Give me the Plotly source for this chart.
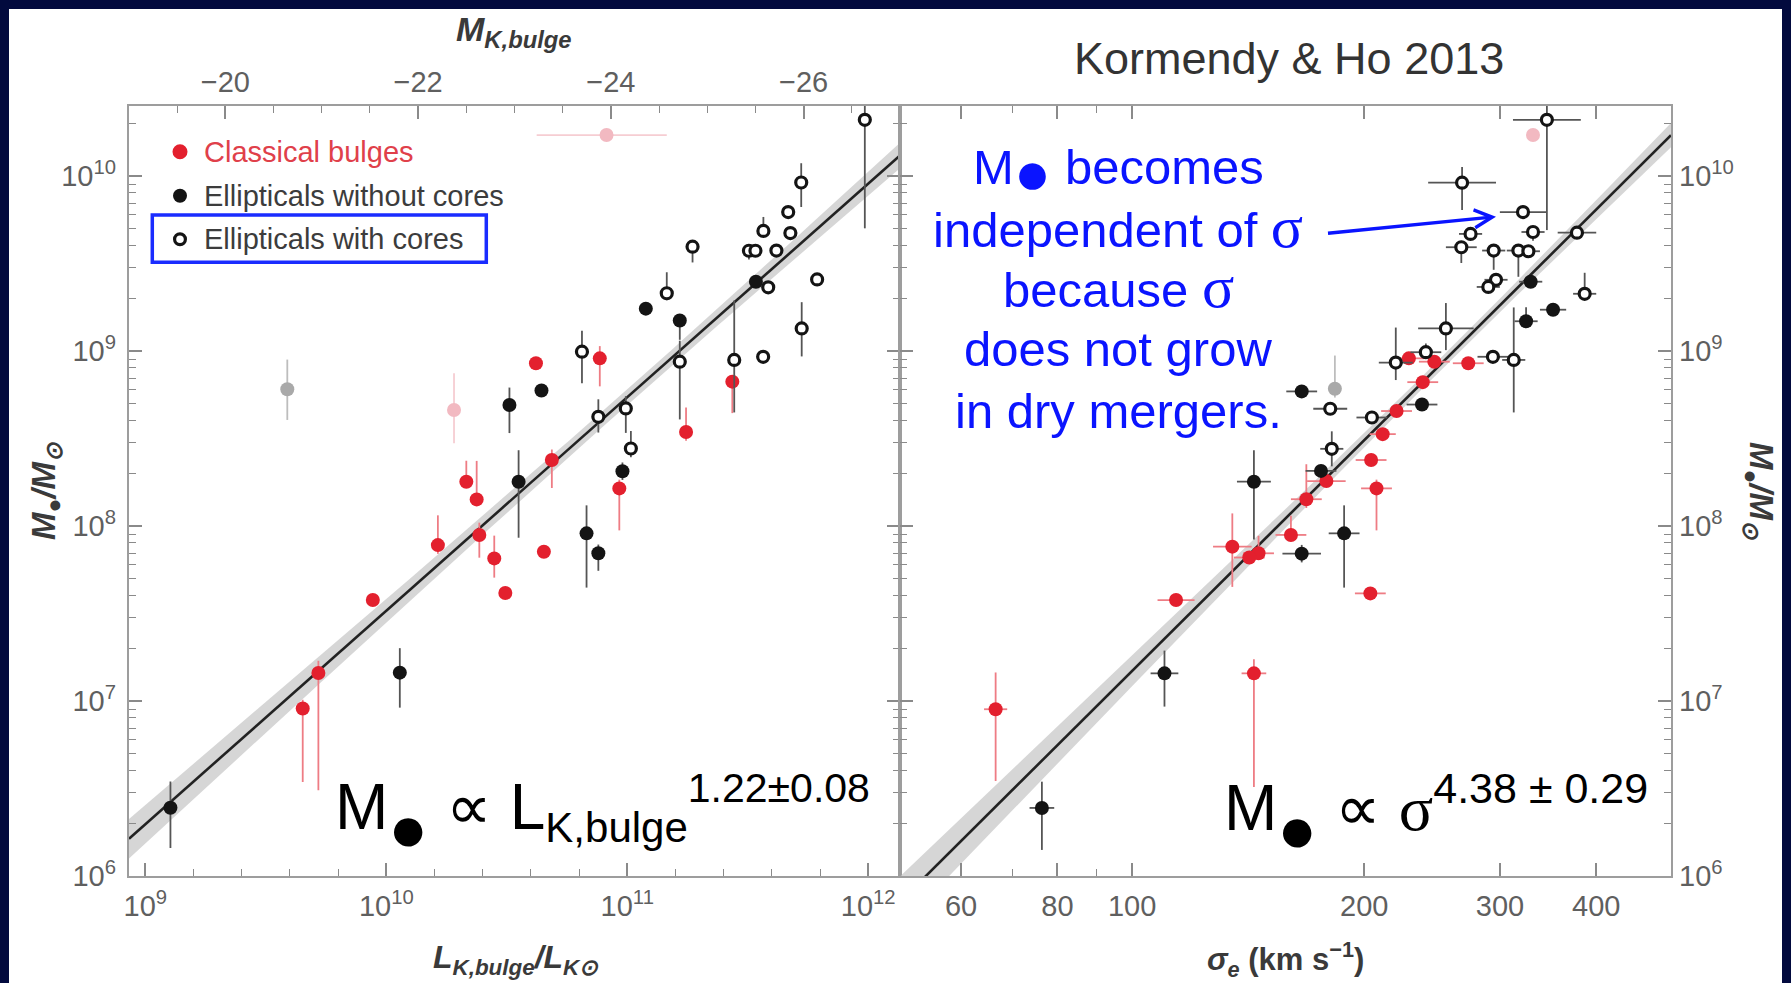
import numpy as np
import plotly.graph_objects as go

W, H = 1791, 983

# ---------------- LEFT PANEL: log10(L_K,bulge/L_Ksun) vs log10(M_BH/Msun) ----------------
# Classical bulges
cbL_logL = [10.621, 10.886, 11.436, 11.244, 10.687, 10.332, 10.375, 10.967, 10.386, 10.214, 10.448, 10.654, 10.494, 9.944, 9.718, 9.653]
cbL_logM = [8.930, 8.958, 8.825, 8.537, 8.377, 8.253, 8.152, 8.215, 7.949, 7.891, 7.815, 7.853, 7.617, 7.577, 7.160, 6.957]
cbL_up = [0.03, 0.07, 0.00, 0.14, 0.06, 0.12, 0.22, 0.05, 0.07, 0.17, 0.13, 0.02, 0.02, 0.02, 0.07, 0.05]
cbL_dn = [0.03, 0.16, 0.18, 0.05, 0.16, 0.03, 0.03, 0.24, 0.13, 0.05, 0.11, 0.02, 0.02, 0.02, 0.67, 0.42]
# Ellipticals without cores
eL_logL = [10.511, 10.644, 11.077, 11.218, 11.534, 10.980, 10.549, 10.831, 10.880, 10.056, 9.104]
eL_logM = [8.691, 8.774, 9.242, 9.174, 9.396, 8.313, 8.253, 7.958, 7.844, 7.162, 6.390]
eL_up = [0.10, 0.03, 0.03, 0.03, 0.03, 0.05, 0.18, 0.16, 0.05, 0.14, 0.15]
eL_dn = [0.16, 0.03, 0.03, 0.11, 0.03, 0.05, 0.32, 0.31, 0.10, 0.20, 0.23]
# Ellipticals with cores
cL_logL = [11.986, 11.722, 11.668, 11.677, 11.565, 11.505, 11.532, 11.619, 11.585, 11.788, 11.164, 11.271,
           10.812, 11.218, 11.444, 11.564, 11.724, 10.880, 10.994, 11.015]
cL_logM = [10.321, 9.963, 9.794, 9.674, 9.686, 9.573, 9.573, 9.574, 9.364, 9.409, 9.330, 9.596,
           8.996, 8.939, 8.949, 8.967, 9.129, 8.624, 8.672, 8.443]
cL_up = [0.10, 0.11, 0.03, 0.03, 0.08, 0.03, 0.03, 0.03, 0.03, 0.03, 0.12, 0.03, 0.12, 0.12, 0.34, 0.03, 0.15, 0.10, 0.07, 0.10]
cL_dn = [0.62, 0.14, 0.03, 0.03, 0.03, 0.05, 0.03, 0.03, 0.03, 0.03, 0.04, 0.09, 0.18, 0.33, 0.30, 0.03, 0.16, 0.09, 0.14, 0.05]
# Omitted objects (faded)
omL_logL = [10.281, 10.914]
omL_logM = [8.663, 10.234]
omL_up = [0.21, 0.0]
omL_dn = [0.19, 0.0]
omL_xlo = [0.0, 0.29]
omL_xhi = [0.0, 0.25]
grL_logL = [9.589]
grL_logM = [8.781]
grL_up = [0.17]
grL_dn = [0.175]

# ---------------- RIGHT PANEL: log10(sigma_e) vs log10(M_BH) ----------------
cbR_logS = [2.359, 2.392, 2.436, 2.377, 2.343, 2.325, 2.310, 2.317, 2.252, 2.226, 2.206, 2.130, 2.164, 2.152, 2.309, 2.057, 2.158, 1.823]
cbR_logM = [8.958, 8.939, 8.930, 8.822, 8.657, 8.525, 8.377, 8.215, 8.257, 8.153, 7.949, 7.882, 7.844, 7.820, 7.615, 7.577, 7.158, 6.953]
cbR_up = [0.03, 0.03, 0.03, 0.03, 0.03, 0.03, 0.03, 0.05, 0.03, 0.20, 0.11, 0.19, 0.10, 0.03, 0.03, 0.03, 0.08, 0.21]
cbR_dn = [0.03, 0.03, 0.03, 0.03, 0.03, 0.03, 0.03, 0.24, 0.03, 0.05, 0.03, 0.23, 0.03, 0.03, 0.03, 0.03, 0.65, 0.41]
cbR_sx = [0.02, 0.02, 0.02, 0.02, 0.02, 0.017, 0.02, 0.02, 0.025, 0.02, 0.02, 0.025, 0.02, 0.02, 0.02, 0.024, 0.016, 0.015]

eR_logS = [2.517, 2.546, 2.511, 2.220, 2.376, 2.245, 2.158, 2.220, 2.275, 2.042, 1.883]
eR_logM = [9.396, 9.236, 9.170, 8.769, 8.694, 8.315, 8.253, 7.842, 7.958, 7.158, 6.389]
eR_up = [0.03, 0.03, 0.08, 0.03, 0.03, 0.03, 0.18, 0.05, 0.16, 0.13, 0.15]
eR_dn = [0.03, 0.03, 0.03, 0.03, 0.03, 0.03, 0.33, 0.05, 0.31, 0.19, 0.24]
eR_sx = [0.015, 0.017, 0.015, 0.02, 0.02, 0.02, 0.022, 0.025, 0.02, 0.018, 0.016]

cR_logS = [2.538, 2.428, 2.507, 2.520, 2.577, 2.439, 2.427, 2.469, 2.501, 2.514, 2.472, 2.462, 2.587, 2.407,
           2.381, 2.342, 2.468, 2.495, 2.257, 2.311, 2.259]
cR_logM = [10.321, 9.962, 9.794, 9.680, 9.676, 9.669, 9.593, 9.574, 9.574, 9.570, 9.407, 9.366, 9.327, 9.129,
           8.993, 8.934, 8.967, 8.949, 8.670, 8.620, 8.441]
cR_up = [0.10, 0.09, 0.03, 0.03, 0.03, 0.03, 0.03, 0.03, 0.03, 0.03, 0.03, 0.03, 0.12, 0.145, 0.05, 0.20, 0.03, 0.30, 0.03, 0.03, 0.10]
cR_dn = [0.63, 0.156, 0.03, 0.05, 0.03, 0.03, 0.09, 0.11, 0.15, 0.03, 0.03, 0.03, 0.03, 0.124, 0.03, 0.10, 0.03, 0.30, 0.03, 0.03, 0.10]
cR_sx = [0.044, 0.044, 0.03, 0.015, 0.025, 0.015, 0.02, 0.015, 0.015, 0.015, 0.015, 0.015, 0.015, 0.036,
         0.02, 0.022, 0.02, 0.015, 0.022, 0.02, 0.015]

omR_logS = [2.520]
omR_logM = [10.234]
grR_logS = [2.263]
grR_logM = [8.784]
grR_up = [0.19]
grR_dn = [0.05]

# Fits (Kormendy & Ho 2013)
fitL = dict(norm=8.736, slope=1.22, pivot=11.0, a=0.045, b=0.05, bpiv=11.0)
fitS = dict(norm=8.49, slope=4.38, pivot=np.log10(200.0), a=0.035, b=0.20, bpiv=2.40)

# Axis ranges (log10)
L_range = [8.932, 12.132]
S_range = [np.log10(50.0), np.log10(500.0)]
M_range = [6.0, 10.4]
MK_range = [-19.0, -27.0]

# Tick labels
L_ticks = [1e9, 1e10, 1e11, 1e12]
L_ticktext = ["10<sup>9</sup>", "10<sup>10</sup>", "10<sup>11</sup>", "10<sup>12</sup>"]
M_ticks = [1e6, 1e7, 1e8, 1e9, 1e10]
M_ticktext = ["10<sup>6</sup>", "10<sup>7</sup>", "10<sup>8</sup>", "10<sup>9</sup>", "10<sup>10</sup>"]
S_ticks = [60, 80, 100, 200, 300, 400]
S_ticktext = ["60", "80", "100", "200", "300", "400"]
MK_ticks = [-20, -22, -24, -26]
MK_ticktext = ["\u221220", "\u221222", "\u221224", "\u221226"]

# ---------------- helpers ----------------
def p(v):
    return 10 ** np.asarray(v, dtype=float)

def errs(logv, up, dn):
    v = np.asarray(logv, dtype=float)
    return (p(v + np.asarray(up)) - p(v)).tolist(), (p(v) - p(v - np.asarray(dn))).tolist()

RED = "#e3202e"
BLK = "#141414"
TICKFONT = dict(family="Liberation Sans Narrow, Liberation Sans, Arial, sans-serif", size=29, color="#5f5f5f")

fig = go.Figure()

def band_traces(fit, rng, xa, ya):
    xs = np.linspace(rng[0], rng[1], 120)
    yc = fit["norm"] + fit["slope"] * (xs - fit["pivot"])
    hw = np.sqrt(fit["a"] ** 2 + (fit["b"] * (xs - fit["bpiv"])) ** 2)
    bx = np.concatenate([xs, xs[::-1]])
    by = np.concatenate([yc + hw, (yc - hw)[::-1]])
    fig.add_trace(go.Scatter(x=p(bx), y=p(by), fill="toself", fillcolor="rgba(200,200,200,0.75)",
                             line=dict(width=0), mode="lines", xaxis=xa, yaxis=ya,
                             hoverinfo="skip", showlegend=False))
    fig.add_trace(go.Scatter(x=p(xs), y=p(yc), mode="lines", line=dict(color="#222222", width=2.6),
                             xaxis=xa, yaxis=ya, hoverinfo="skip", showlegend=False))

def series(xlog, ylog, up, dn, xa, ya, marker, ecol, xlo=None, xhi=None):
    ep, em = errs(ylog, up, dn)
    tr = dict(x=p(xlog), y=p(ylog), mode="markers", xaxis=xa, yaxis=ya, marker=marker,
              error_y=dict(type="data", symmetric=False, array=ep, arrayminus=em,
                           color=ecol, thickness=1.8, width=0),
              showlegend=False, hoverinfo="skip")
    if xlo is not None:
        xp_, xm_ = errs(xlog, xhi, xlo)
        tr["error_x"] = dict(type="data", symmetric=False, array=xp_, arrayminus=xm_,
                             color=ecol, thickness=1.8, width=0)
    fig.add_trace(go.Scatter(**tr))

mk_red = dict(color=RED, size=14, line=dict(width=0))
mk_blk = dict(color=BLK, size=14, line=dict(width=0))
mk_open = dict(color="white", size=11, line=dict(color=BLK, width=3.2))
mk_pink = dict(color="#f2b9c1", size=14, line=dict(width=0))
mk_gray = dict(color="#a9a9a9", size=14, line=dict(width=0))

# Left panel
band_traces(fitL, L_range, "x", "y")
series(omL_logL, omL_logM, omL_up, omL_dn, "x", "y", mk_pink, "#f6cdd2", omL_xlo, omL_xhi)
series(grL_logL, grL_logM, grL_up, grL_dn, "x", "y", mk_gray, "#bdbdbd")
series(cbL_logL, cbL_logM, cbL_up, cbL_dn, "x", "y", mk_red, "#ee7c84")
series(eL_logL, eL_logM, eL_up, eL_dn, "x", "y", mk_blk, "#555555")
series(cL_logL, cL_logM, cL_up, cL_dn, "x", "y", mk_open, "#555555")
# invisible trace to attach top magnitude axis
fig.add_trace(go.Scatter(x=[-20], y=[1e8], xaxis="x3", yaxis="y", mode="markers",
                         marker=dict(size=1, opacity=0), hoverinfo="skip", showlegend=False))

# Right panel
band_traces(fitS, S_range, "x2", "y2")
series(omR_logS, omR_logM, [0.0], [0.0], "x2", "y2", mk_pink, "#f6cdd2")
series(grR_logS, grR_logM, grR_up, grR_dn, "x2", "y2", mk_gray, "#bdbdbd")
series(cbR_logS, cbR_logM, cbR_up, cbR_dn, "x2", "y2", mk_red, "#ee7c84", cbR_sx, cbR_sx)
series(eR_logS, eR_logM, eR_up, eR_dn, "x2", "y2", mk_blk, "#555555", eR_sx, eR_sx)
series(cR_logS, cR_logM, cR_up, cR_dn, "x2", "y2", mk_open, "#555555", cR_sx, cR_sx)

# ---------------- layout ----------------
xL0, xL1, xR1 = 129 / W, 900 / W, 1671 / W
yB, yT = 1 - 876 / H, 1 - 106 / H

axis_common = dict(showgrid=False, zeroline=False, showline=True, linecolor="#9d9d9d", linewidth=2.4,
                   ticks="inside", ticklen=13, tickwidth=1.6, tickcolor="#8a8a8a", tickfont=TICKFONT,
                   automargin=False)

def minor(vals, ln=7):
    return dict(tickvals=vals, ticks="inside", ticklen=ln, tickwidth=1.4, tickcolor="#8a8a8a", showgrid=False)

M_minor = [k * 10 ** e for e in range(6, 11) for k in range(2, 10) if k * 10 ** e < 2.6e10]
L_minor = [10 ** (9 + 0.2 * i) for i in range(-1, 17)]
S_minor = [70, 90, 500]

fig.update_layout(
    width=W, height=H, autosize=False,
    margin=dict(l=0, r=0, t=0, b=0, pad=0, autoexpand=False),
    paper_bgcolor="#020a3e", plot_bgcolor="white", showlegend=False,
    xaxis=dict(domain=[xL0, xL1], anchor="y", type="log", range=L_range, tickmode="array",
               tickvals=L_ticks, ticktext=L_ticktext, minor=minor(L_minor), ticklabelstandoff=3,
               **axis_common),
    xaxis3=dict(overlaying="x", side="top", anchor="y", range=MK_range, tickmode="array",
                tickvals=MK_ticks, ticktext=MK_ticktext, minor=dict(dtick=0.5, ticks="inside", ticklen=7,
                tickwidth=1.4, tickcolor="#8a8a8a", showgrid=False), **axis_common),
    yaxis=dict(domain=[yB, yT], anchor="x", type="log", range=M_range, tickmode="array",
               tickvals=M_ticks, ticktext=M_ticktext, mirror="ticks", minor=minor(M_minor),
               ticklabelstandoff=5, **axis_common),
    xaxis2=dict(domain=[xL1, xR1], anchor="y2", type="log", range=S_range, tickmode="array",
                tickvals=S_ticks, ticktext=S_ticktext, mirror="ticks", minor=minor(S_minor),
                ticklabelstandoff=3, **axis_common),
    yaxis2=dict(domain=[yB, yT], anchor="x2", side="right", type="log", range=M_range, tickmode="array",
                tickvals=M_ticks, ticktext=M_ticktext, mirror="ticks", minor=minor(M_minor), **axis_common),
)

def px(xp):
    return xp / W

def py(yp):
    return 1 - yp / H

shapes = [
    dict(type="rect", xref="paper", yref="paper", x0=px(9), x1=px(1782), y0=-0.01, y1=py(9),
         fillcolor="white", line=dict(width=0), layer="below"),
]

def circ(cx, cy, r, fill, lc=None, lw=0):
    return dict(type="circle", xref="paper", yref="paper", x0=px(cx - r), x1=px(cx + r),
                y0=py(cy + r), y1=py(cy - r), fillcolor=fill,
                line=dict(color=lc or fill, width=lw), layer="above")

shapes += [
    circ(180.0, 151.7, 7.5, RED),
    circ(180.0, 195.7, 7.0, BLK),
    circ(180.0, 239.3, 5.4, "white", BLK, 3.2),
    dict(type="rect", xref="paper", yref="paper", x0=px(152.3), x1=px(486.3), y0=py(262.3), y1=py(215),
         line=dict(color="#1a2cff", width=3.5), layer="above"),
]
fig.update_layout(shapes=shapes)

ann = []
def A(text, x, y, size, color="#333333", family="Liberation Sans, Arial, sans-serif", xanchor="center",
      yanchor="middle", angle=0):
    ann.append(dict(text=text, x=px(x), y=py(y), xref="paper", yref="paper", showarrow=False,
                    xanchor=xanchor, yanchor=yanchor, textangle=angle,
                    font=dict(size=size, color=color, family=family)))

# axis titles & title
A("<b><i>M<sub>K,bulge</sub></i></b>", 514, 31, 34, "#3a3a3a")
A("<b><i>L<sub>K,bulge</sub>/L<sub>K\u2299</sub></i></b>", 516, 959, 32, "#3a3a3a")
A("<b><i>\u03c3<sub>e</sub></i> (km s<sup>\u22121</sup>)</b>", 1285, 959, 31, "#3a3a3a")
A("<b><i>M<sub>\u25cf</sub>/M<sub>\u2299</sub></i></b>", 46, 491, 33, "#3a3a3a", angle=-90)
A("<b><i>M<sub>\u25cf</sub>/M<sub>\u2299</sub></i></b>", 1759, 491, 33, "#3a3a3a", angle=90)
A("Kormendy &amp; Ho 2013", 1289, 59, 45, "#333333")

# legend text
A("Classical bulges", 202, 151.7, 29, "#e0404a", xanchor="left")
A("Ellipticals without cores", 202, 195.7, 29, "#3c3c3c", xanchor="left")
A("Ellipticals with cores", 202, 239.3, 29, "#3c3c3c", xanchor="left")

# formulas
DOT = "<sub><span style='font-size:66px;baseline-shift:-0.14em'>\u25cf</span></sub>"
A("M" + DOT + " \u221d L<sub><span style='font-size:42px'>K,bulge</span></sub>"
  "<sup><span style='font-size:41px'>1.22\u00b10.08</span></sup>",
  333, 815, 64, "black", xanchor="left")
A("M" + DOT + " \u221d <span style='font-family:Liberation Serif'>\u03c3</span>"
  "<sup><span style='font-size:43px'>4.38 \u00b1 0.29</span></sup>",
  1222, 815, 64, "black", xanchor="left")

# blue note
BLUE = "#0a14ff"
SIG = "<span style='font-family:Liberation Serif;font-size:60px'>\u03c3</span>"
blue_lines = ["M<sub><span style='font-size:62px'>\u25cf</span></sub> becomes",
              "independent of " + SIG,
              "because " + SIG,
              "does not grow",
              "in dry mergers."]
blue_base = [189, 244, 304, 366, 428]
for t, b in zip(blue_lines, blue_base):
    A(t, 1118, b - 17, 49, BLUE)

ann.append(dict(x=px(1496), y=py(216.7), xref="paper", yref="paper", text="", showarrow=True,
                ax=-169.5, ay=16.6, arrowhead=5, arrowsize=1.0, arrowwidth=3.5, arrowcolor=BLUE, standoff=0))

fig.update_layout(annotations=ann)

fig.write_html("out.html", config={"displayModeBar": False, "responsive": False},
               post_script="document.body.style.margin='0';document.body.style.overflow='hidden';")
